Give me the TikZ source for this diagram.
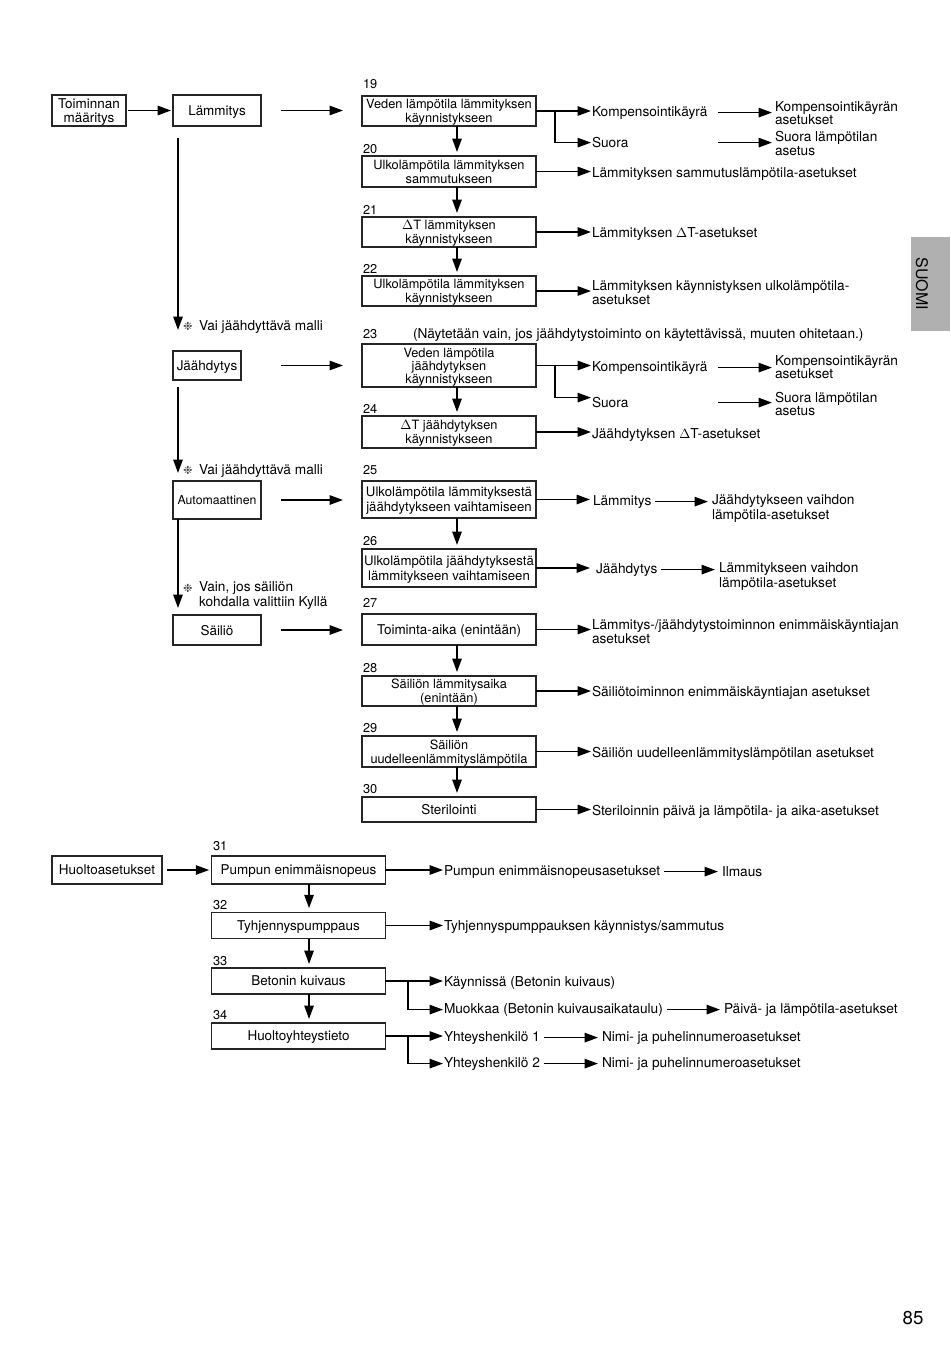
\documentclass[tikz,border=0pt]{standalone}
\usepackage{fontspec}
\setmainfont{TeX Gyre Heros}
\newfontfamily\djv{DejaVu Sans}
\usetikzlibrary{arrows.meta,calc}
\definecolor{tabgray}{RGB}{176,176,176}
\begin{document}
\begin{tikzpicture}[x=0.75pt,y=-0.75pt,
  every node/.style={inner sep=0pt, outer sep=0pt},
  txt/.style={font=\fontsize{10.25}{10.25}\selectfont, align=left, anchor=west, yshift=-1.2pt},
  num/.style={font=\fontsize{9.6}{10}\selectfont, anchor=west, yshift=-1pt},
  bx/.style={draw=black!85, line width=0.9pt, align=center, text depth=0pt, font=\fontsize{10.1}{10.6}\selectfont},
  bxs/.style={bx, font=\fontsize{9.6}{10.3}\selectfont},
  mid/.style={minimum width=130.5pt},
  bot/.style={bx, minimum width=130pt, minimum height=20pt},
  lft/.style={minimum width=66pt},
  arr/.style={line width=1.2pt, -{Triangle[length=10pt,width=7pt]}},
  star/.style={font=\djv\fontsize{8.5}{9}\selectfont, text=black!70, anchor=west, yshift=-1.2pt},
]
\useasboundingbox (0,0) rectangle (950,1348);

% ---- tab and page number
\fill[tabgray] (911,237) rectangle (950,331);
\node[rotate=-90, font=\fontsize{12}{12}\selectfont] (tab) at (922,284) {SUOMI};
\node[font=\fontsize{14}{14}\selectfont] (page) at (913,1318) {85};

% ---- left column
\node[bx, minimum width=55.5pt, minimum height=23.25pt] (tm) at (89,110.5) {Toiminnan\\määritys};
\node[bx, lft, minimum height=23.25pt] (lam) at (217,110.5) {Lämmitys};
\node[bx, minimum width=51pt, minimum height=21.75pt] (jaa) at (207,365.5) {Jäähdytys};
\node[bx, lft, minimum height=28.5pt, font=\fontsize{9.2}{10}\selectfont] (aut) at (217,500) {Automaattinen};
\node[bx, lft, minimum height=22.5pt] (sai) at (217,630) {Säiliö};

\node[star] (st1) at (183,325) {❉};
\node[txt] (n1) at (199,325) {Vai jäähdyttävä malli};
\node[star] (st2) at (183,469) {❉};
\node[txt] (n2) at (199,469) {Vai jäähdyttävä malli};
\node[star] (st3) at (183,587) {❉};
\node[txt, font=\fontsize{10.25}{10.75}\selectfont] (n3) at (199,594) {Vain, jos säiliön\\kohdalla valittiin Kyllä};

% ---- middle column
\node[num] at (363,83) {19};
\node[bxs, mid, minimum height=22.5pt] (b19) at (449,111) {Veden lämpötila lämmityksen\\käynnistykseen};
\node[num] at (363,148) {20};
\node[bxs, mid, minimum height=23.25pt] (b20) at (449,171.5) {Ulkolämpötila lämmityksen\\sammutukseen};
\node[num] at (363,209) {21};
\node[bxs, mid, minimum height=22.5pt] (b21) at (449,232) {$\Delta$T lämmityksen\\käynnistykseen};
\node[num] at (363,268) {22};
\node[bxs, mid, minimum height=22.5pt] (b22) at (449,291) {Ulkolämpötila lämmityksen\\käynnistykseen};
\node[num] at (363,333) {23};
\node[txt] (note23) at (413,333) {(Näytetään vain, jos jäähdytystoiminto on käytettävissä, muuten ohitetaan.)};
\node[bxs, mid, minimum height=32.25pt, font=\fontsize{9.6}{9.8}\selectfont] (b23) at (449,365.5) {Veden lämpötila\\jäähdytyksen\\käynnistykseen};
\node[num] at (363,408) {24};
\node[bxs, mid, minimum height=24pt] (b24) at (449,432) {$\Delta$T jäähdytyksen\\käynnistykseen};
\node[num] at (363,469) {25};
\node[bx, mid, minimum height=27.75pt, font=\fontsize{9.9}{11}\selectfont] (b25) at (449,499.5) {Ulkolämpötila lämmityksestä\\jäähdytykseen vaihtamiseen};
\node[num] at (363,540) {26};
\node[bx, mid, minimum height=28.5pt, font=\fontsize{9.9}{11}\selectfont] (b26) at (449,568) {Ulkolämpötila jäähdytyksestä\\lämmitykseen vaihtamiseen};
\node[num] at (363,602) {27};
\node[bx, mid, minimum height=23.25pt] (b27) at (449,629.5) {Toiminta-aika (enintään)};
\node[num] at (363,667) {28};
\node[bxs, mid, minimum height=22.5pt] (b28) at (449,691) {Säiliön lämmitysaika\\(enintään)};
\node[num] at (363,727) {29};
\node[bxs, mid, minimum height=23.25pt] (b29) at (449,751.5) {Säiliön\\uudelleenlämmityslämpötila};
\node[num] at (363,788) {30};
\node[bx, mid, minimum height=18.75pt] (b30) at (449,809.5) {Sterilointi};

% ---- right labels
\node[txt] (k1) at (592,111) {Kompensointikäyrä};
\node[txt] (s1) at (592,141) {Suora};
\node[txt] (k1a) at (775,111.5) {Kompensointikäyrän\\asetukset};
\node[txt] (s1a) at (775,142) {Suora lämpötilan\\asetus};
\node[txt] (r20) at (592,172) {Lämmityksen sammutuslämpötila-asetukset};
\node[txt] (r21) at (592,232) {Lämmityksen $\Delta$T-asetukset};
\node[txt, font=\fontsize{10.25}{10.75}\selectfont] (r22) at (592,291) {Lämmityksen käynnistyksen ulkolämpötila-\\asetukset};
\node[txt] (k2) at (592,366) {Kompensointikäyrä};
\node[txt] (s2) at (592,401) {Suora};
\node[txt] (k2a) at (775,365.5) {Kompensointikäyrän\\asetukset};
\node[txt] (s2a) at (775,402.5) {Suora lämpötilan\\asetus};
\node[txt] (r24) at (592,433) {Jäähdytyksen $\Delta$T-asetukset};
\node[txt] (l25) at (593,500) {Lämmitys};
\node[txt, font=\fontsize{10.25}{10.75}\selectfont] (r25) at (712,507) {Jäähdytykseen vaihdon\\lämpötila-asetukset};
\node[txt] (j26) at (596,568) {Jäähdytys};
\node[txt, font=\fontsize{10.25}{10.75}\selectfont] (r26) at (719,575) {Lämmitykseen vaihdon\\lämpötila-asetukset};
\node[txt, font=\fontsize{10.25}{10.75}\selectfont] (r27) at (592,630) {Lämmitys-/jäähdytystoiminnon enimmäiskäyntiajan\\asetukset};
\node[txt] (r28) at (592,691) {Säiliötoiminnon enimmäiskäyntiajan asetukset};
\node[txt] (r29) at (592,752) {Säiliön uudelleenlämmityslämpötilan asetukset};
\node[txt] (r30) at (592,810) {Steriloinnin päivä ja lämpötila- ja aika-asetukset};

% ---- bottom section
\node[bx, minimum width=82.5pt, minimum height=21pt] (hu) at (107,870) {Huoltoasetukset};
\node[num] at (213,845) {31};
\node[bot, minimum height=21pt] (b31) at (298.5,870) {Pumpun enimmäisnopeus};
\node[num] at (213,904) {32};
\node[bot] (b32) at (298.5,925.5) {Tyhjennyspumppaus};
\node[num] at (213,960) {33};
\node[bot, minimum height=19.5pt] (b33) at (298.5,981) {Betonin kuivaus};
\node[num] at (213,1014) {34};
\node[bot, minimum height=19.5pt] (b34) at (298.5,1036) {Huoltoyhteystieto};

\node[txt] (p31) at (444,870) {Pumpun enimmäisnopeusasetukset};
\node[txt] (il) at (722,870) {Ilmaus};
\node[txt] (t32) at (444,925) {Tyhjennyspumppauksen käynnistys/sammutus};
\node[txt] (k33) at (444,981) {Käynnissä (Betonin kuivaus)};
\node[txt] (m33) at (444,1008) {Muokkaa (Betonin kuivausaikataulu)};
\node[txt] (pv) at (724,1008) {Päivä- ja lämpötila-asetukset};
\node[txt] (y1) at (444,1036) {Yhteyshenkilö 1};
\node[txt] (nm1) at (602,1036) {Nimi- ja puhelinnumeroasetukset};
\node[txt] (y2) at (444,1062) {Yhteyshenkilö 2};
\node[txt] (nm2) at (602,1062) {Nimi- ja puhelinnumeroasetukset};

% ---- connectors: left column
\draw[arr, shorten <=1.5pt, shorten >=1.5pt] (tm.east) -- (tm.east -| lam.west);
\draw[arr, shorten <=15pt, shorten >=14.25pt] (lam.east) -- (lam.east -| b19.west);
\draw[arr, shorten <=30pt, shorten >=14.25pt] (jaa.east) -- (jaa.east -| b23.west);
\draw[arr, shorten <=15pt, shorten >=14.25pt] (aut.east) -- (aut.east -| b25.west);
\draw[arr, shorten <=15pt, shorten >=14.25pt] (sai.east) -- (sai.east -| b27.west);

\coordinate (lamL) at ([xshift=3.75pt]lam.south west);
\coordinate (jaaL) at ([xshift=3.75pt]jaa.south west);
\coordinate (autL) at ([xshift=3.75pt]aut.south west);
\draw[arr, shorten <=9pt, shorten >=15.75pt] (lamL) -- (lamL |- jaa.north);
\draw[arr, shorten <=5.25pt, shorten >=6pt] (jaaL) -- (jaaL |- aut.north);
\draw[arr, shorten >=5.25pt] (autL) -- (autL |- sai.north);

% ---- connectors: middle verticals
\foreach \a/\b in {b19/b20,b20/b21,b21/b22,b23/b24,b25/b26,b27/b28,b28/b29,b29/b30}{
  \draw[arr, shorten >=3pt] ([xshift=6pt]\a.south) -- ([xshift=6pt]\b.north);
}

% ---- connectors: middle to right
\draw[arr, shorten >=0.75pt] (b19.east) -- (b19.east -| k1.west);
\draw[arr, shorten >=0.75pt] ($(b19.east)+(19,0)$) |- (s1.west);
\draw[arr, shorten >=2.25pt] ($(k1a.west |- k1)+(-57,0)$) -- (k1a.west |- k1);
\draw[arr, shorten >=2.25pt] ($(k1a.west |- s1)+(-57,0)$) -- (k1a.west |- s1);
\draw[arr, shorten >=0.75pt] (b20.east) -- (b20.east -| r20.west);
\draw[arr, shorten >=0.75pt] (b21.east) -- (b21.east -| r21.west);
\draw[arr, shorten >=0.75pt] (b22.east) -- (b22.east -| r22.west);
\draw[arr, shorten >=0.75pt] (b23.east) -- (b23.east -| k2.west);
\draw[arr, shorten >=0.75pt] ($(b23.east)+(19,0)$) |- ($(s2.west)+(0,-5)$);
\draw[arr, shorten >=2.25pt] ($(k2a.west |- k2)+(-57,0)$) -- (k2a.west |- k2);
\draw[arr, shorten >=2.25pt] ($(k2a.west |- s2)+(-57,0)$) -- (k2a.west |- s2);
\draw[arr, shorten >=0.75pt] (b24.east) -- (b24.east -| r24.west);
\draw[arr, shorten >=2.25pt] (b25.east) -- (b25.east -| l25.west);
\draw[arr, shorten <=3pt, shorten >=3pt] (l25.east) -- (l25.east -| r25.west);
\draw[arr, shorten >=4.5pt] (b26.east) -- (b26.east -| j26.west);
\draw[arr, shorten <=3pt, shorten >=3pt] (j26.east) -- (j26.east -| r26.west);
\draw[arr, shorten >=0.75pt] (b27.east) -- (b27.east -| r27.west);
\draw[arr, shorten >=0.75pt] (b28.east) -- (b28.east -| r28.west);
\draw[arr, shorten >=0.75pt] (b29.east) -- (b29.east -| r29.west);
\draw[arr, shorten >=0.75pt] (b30.east) -- (b30.east -| r30.west);

% ---- connectors: bottom
\draw[arr, shorten <=4pt, shorten >=2pt] (hu.east) -- (hu.east -| b31.west);
\foreach \a/\b in {b31/b32,b32/b33,b33/b34}{
  \draw[arr, shorten >=3pt] ([xshift=7.9pt]\a.south) -- ([xshift=7.9pt]\b.north);
}
\draw[arr, shorten >=0.75pt] (b31.east) -- (b31.east -| p31.west);
\draw[arr, shorten <=3pt, shorten >=3pt] (p31.east) -- (p31.east -| il.west);
\draw[arr, shorten >=0.75pt] (b32.east) -- (b32.east -| t32.west);
\draw[arr, shorten >=0.75pt] (b33.east) -- (b33.east -| k33.west);
\draw[arr, shorten >=0.75pt] ($(b33.east -| k33.west)+(-36,0)$) |- (m33.west);
\draw[arr, shorten <=3pt, shorten >=3pt] (m33.east) -- (m33.east -| pv.west);
\draw[arr, shorten >=0.75pt] (b34.east) -- (b34.east -| y1.west);
\draw[arr, shorten >=0.75pt] ($(b34.east -| y1.west)+(-36,0)$) |- (y2.west);
\draw[arr, shorten <=3pt, shorten >=3pt] (y1.east) -- (y1.east -| nm1.west);
\draw[arr, shorten <=3pt, shorten >=3pt] (y2.east) -- (y2.east -| nm2.west);
\end{tikzpicture}
\end{document}
